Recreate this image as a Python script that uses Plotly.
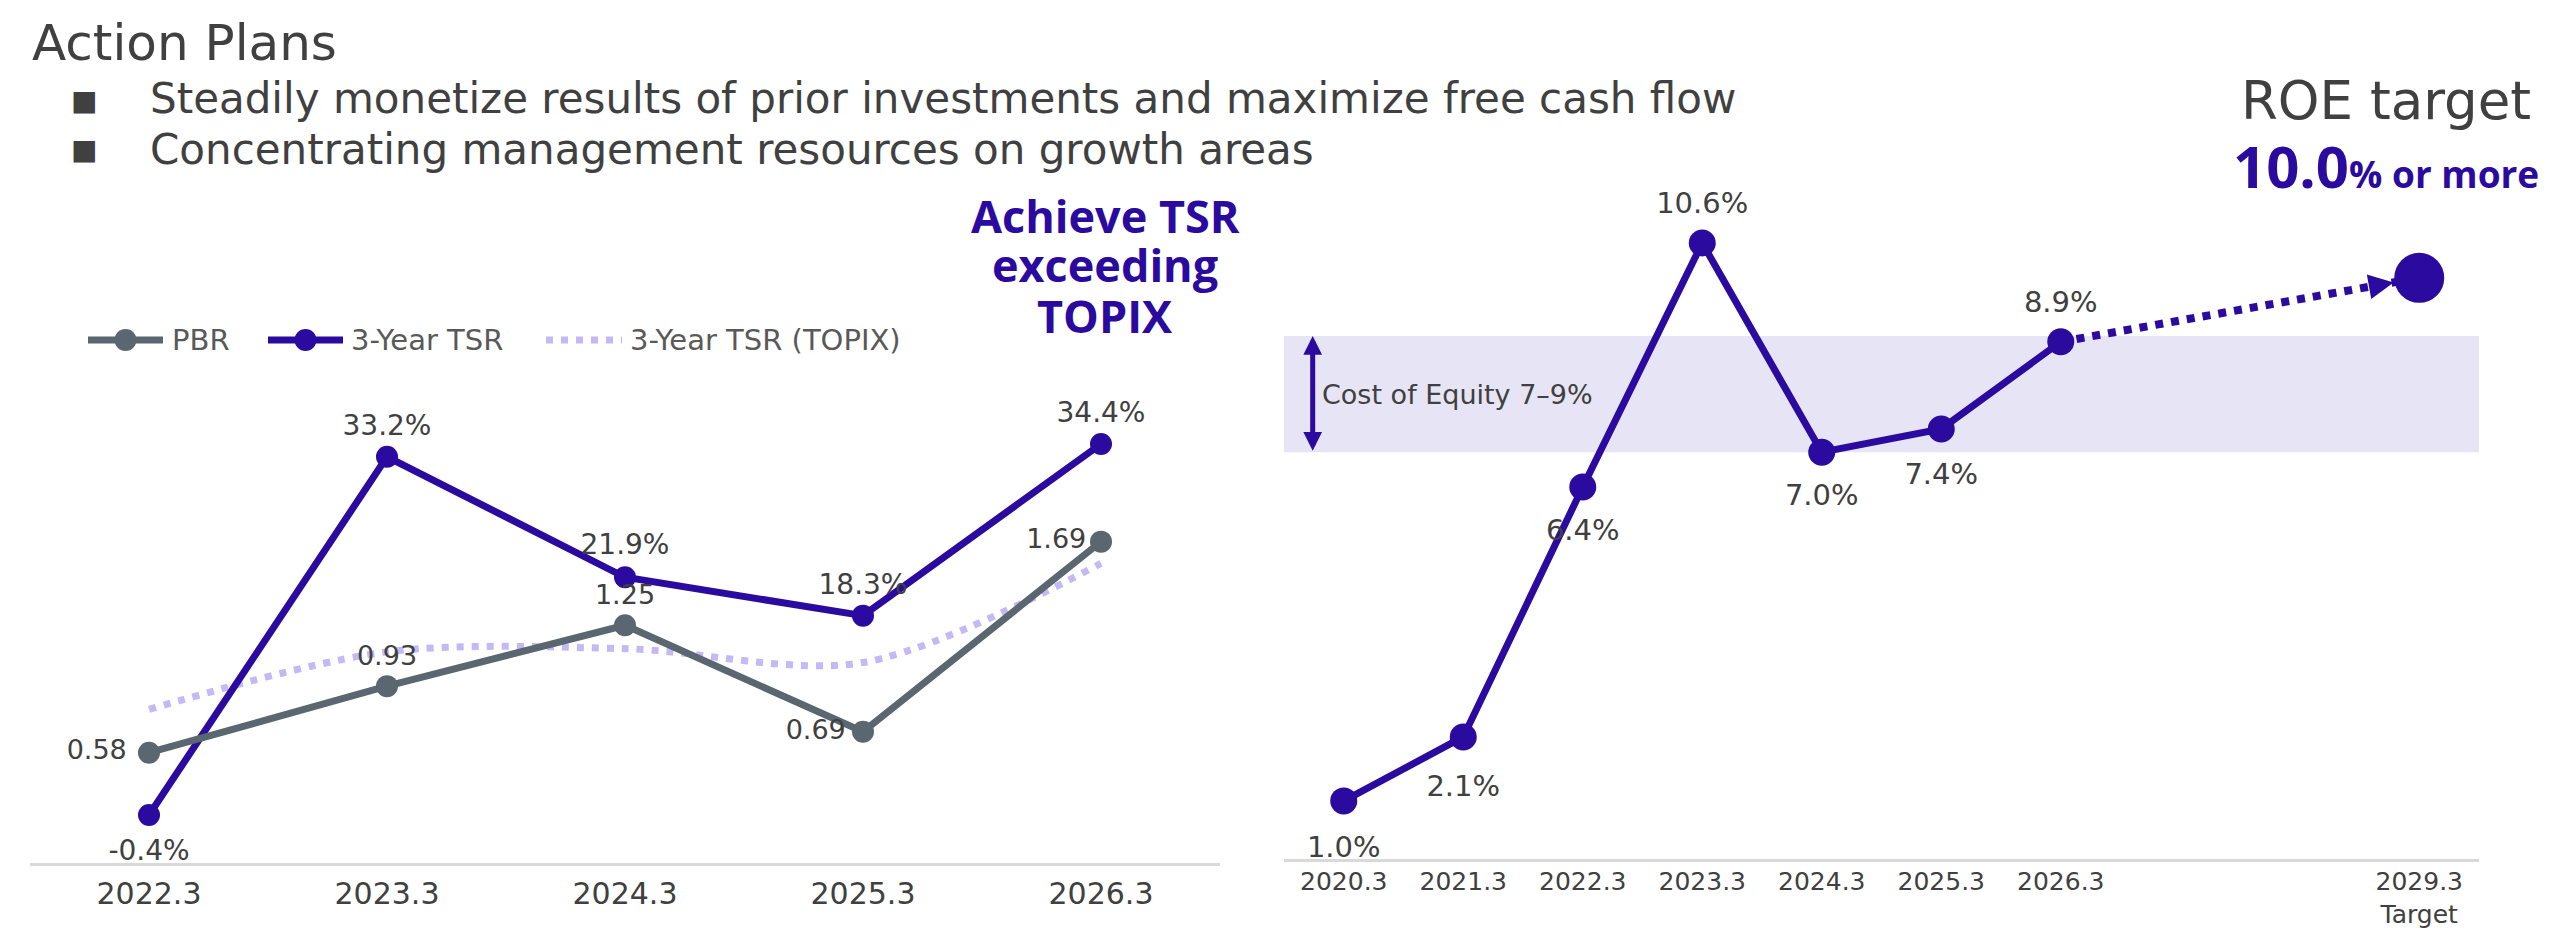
import plotly.graph_objects as go
import math

W, H = 2560, 941

# ---------------- data ----------------
tsr_periods = ["2022.3", "2023.3", "2024.3", "2025.3", "2026.3"]
pbr_values = [0.58, 0.93, 1.25, 0.69, 1.69]
tsr_values = [-0.4, 33.2, 21.9, 18.3, 34.4]
tsr_topix_values = [9.5, 14.9, 15.2, 13.9, 23.2]

roe_years = [2020, 2021, 2022, 2023, 2024, 2025, 2026]
roe_values = [1.0, 2.1, 6.4, 10.6, 7.0, 7.4, 8.9]
target_year = [2029]
target_roe = [10.0]
roe_tick_vals = [2020, 2021, 2022, 2023, 2024, 2025, 2026, 2029]
roe_tick_text = ["2020.3", "2021.3", "2022.3", "2023.3", "2024.3", "2025.3", "2026.3", "2029.3<br>Target"]
cost_of_equity = [7, 9]

# ---------------- styles ----------------
INDIGO = "#2b0a9f"
SLATE = "#5a6670"
LAVENDER = "#c4b9f4"
BAND = "#e7e5f5"
TEXT = "#404040"
FONT = "DejaVu Sans"
BOLD = "Open Sans"


def fx(px):
    return px / W


def fy(py):
    return 1 - py / H


# plot areas (pixels)
L_X0, L_X1, L_Y0, L_Y1 = 30, 1220, 863, 380
R_X0, R_X1, R_Y0, R_Y1 = 1284, 2479, 859, 150
TSR_RANGE = [-4.9, 40.4]
PBR_RANGE = [0, 2.54]
ROE_XRANGE = [2019.5, 2029.5]
ROE_YRANGE = [0, 12.2]

fig = go.Figure()

# ---- left chart ----
fig.add_trace(go.Scatter(
    x=tsr_periods, y=tsr_topix_values, mode="lines", name="3-Year TSR (TOPIX)",
    line=dict(color=LAVENDER, width=7, dash="7px,8px", shape="spline", smoothing=0.9),
    xaxis="x", yaxis="y", hoverinfo="skip"))

fig.add_trace(go.Scatter(
    x=tsr_periods, y=pbr_values, mode="lines+markers", name="PBR",
    line=dict(color=SLATE, width=7), marker=dict(size=22, color=SLATE),
    xaxis="x", yaxis="y2"))
fig.add_trace(go.Scatter(
    x=tsr_periods, y=pbr_values, mode="markers+text", name="PBR labels",
    marker=dict(size=[34, 22, 22, 26, 22], opacity=0),
    text=[f"{v:.2f}" for v in pbr_values],
    textposition=["middle left", "top center", "top center", "middle left", "middle left"],
    textfont=dict(family=FONT, size=27, color=TEXT),
    cliponaxis=False, xaxis="x", yaxis="y2", hoverinfo="skip"))

fig.add_trace(go.Scatter(
    x=tsr_periods, y=tsr_values, mode="lines+markers", name="3-Year TSR",
    line=dict(color=INDIGO, width=7), marker=dict(size=22, color=INDIGO),
    xaxis="x", yaxis="y"))
fig.add_trace(go.Scatter(
    x=tsr_periods, y=tsr_values, mode="markers+text", name="TSR labels",
    marker=dict(size=[36, 22, 24, 22, 22], opacity=0),
    text=[f"{v:.1f}%" for v in tsr_values],
    textposition=["bottom center", "top center", "top center", "top center", "top center"],
    textfont=dict(family=FONT, size=28, color=TEXT),
    cliponaxis=False, xaxis="x", yaxis="y", hoverinfo="skip"))

# ---- right chart ----
fig.add_trace(go.Scatter(
    x=[roe_years[-1], target_year[0]], y=[roe_values[-1], target_roe[0]], mode="lines",
    line=dict(color=INDIGO, width=8, dash="dot"), xaxis="x2", yaxis="y3",
    hoverinfo="skip", name="Target path"))

fig.add_trace(go.Scatter(
    x=roe_years, y=roe_values, mode="lines+markers", name="ROE",
    line=dict(color=INDIGO, width=7), marker=dict(size=27, color=INDIGO),
    xaxis="x2", yaxis="y3"))
fig.add_trace(go.Scatter(
    x=roe_years, y=roe_values, mode="markers+text", name="ROE labels",
    marker=dict(size=[53, 58, 48, 35, 48, 51, 35], opacity=0),
    text=[f"{v:.1f}%" for v in roe_values],
    textposition=["bottom center", "bottom center", "bottom center", "top center",
                  "bottom center", "bottom center", "top center"],
    textfont=dict(family=FONT, size=29, color=TEXT),
    cliponaxis=False, xaxis="x2", yaxis="y3", hoverinfo="skip"))

fig.add_trace(go.Scatter(
    x=target_year, y=target_roe, mode="markers", name="ROE target",
    marker=dict(size=50, color=INDIGO), cliponaxis=False, xaxis="x2", yaxis="y3"))

# ---------------- shapes ----------------
shapes = [
    dict(type="rect", xref="x2 domain", x0=0, x1=1, yref="y3",
         y0=cost_of_equity[0], y1=cost_of_equity[1],
         fillcolor=BAND, line=dict(width=0), layer="below"),
]

# manual legend glyphs
LEG_Y = 340
for (x0, x1, col) in [(88, 163, SLATE), (268, 343, INDIGO)]:
    shapes.append(dict(type="line", xref="paper", yref="paper", x0=fx(x0), x1=fx(x1),
                       y0=fy(LEG_Y), y1=fy(LEG_Y), line=dict(color=col, width=7)))
    cx = (x0 + x1) / 2
    shapes.append(dict(type="circle", xref="paper", yref="paper", x0=fx(cx - 11), x1=fx(cx + 11),
                       y0=fy(LEG_Y + 11), y1=fy(LEG_Y - 11), fillcolor=col, line=dict(width=0)))
shapes.append(dict(type="line", xref="paper", yref="paper", x0=fx(546), x1=fx(622),
                   y0=fy(LEG_Y), y1=fy(LEG_Y), line=dict(color=LAVENDER, width=7, dash="7px,8px")))

# ---------------- annotations ----------------
ann = []


def text(x, y, s, size, color=TEXT, family=FONT, xanchor="left", yanchor="middle", align="left"):
    ann.append(dict(x=fx(x), y=fy(y), xref="paper", yref="paper", text=s, showarrow=False,
                    xanchor=xanchor, yanchor=yanchor, align=align,
                    font=dict(size=size, color=color, family=family)))


text(30, 43, "Action Plans", 50)
text(84, 101, "■", 28, xanchor="center")
text(84, 149, "■", 28, xanchor="center")
text(148, 98, "Steadily monetize results of prior investments and maximize free cash flow", 42)
text(148, 149, "Concentrating management resources on growth areas", 42)

text(170, LEG_Y, "PBR", 29, color="#595959")
text(349, LEG_Y, "3-Year TSR", 29, color="#595959")
text(628, LEG_Y, "3-Year TSR (TOPIX)", 29, color="#595959")

text(1105, 215, "<b>Achieve TSR</b>", 45, color=INDIGO, family=BOLD, xanchor="center")
text(1105, 264, "<b>exceeding</b>", 45, color=INDIGO, family=BOLD, xanchor="center")
text(1105, 315, "<b>TOPIX</b>", 45, color=INDIGO, family=BOLD, xanchor="center")

text(2386, 100, "ROE target", 53, xanchor="center")
ann.append(dict(x=fx(2386), y=fy(207), xref="paper", yref="paper", showarrow=False,
                xanchor="center", yanchor="bottom",
                text="<b><span style='font-size:58px'>10.0</span>% or more</b>",
                font=dict(size=37, color=INDIGO, family=BOLD)))

# cost of equity label + double arrow
ann.append(dict(xref="x2 domain", x=0.03, yref="y3", y=sum(cost_of_equity) / 2,
                text="Cost of Equity 7–9%", showarrow=False, xanchor="left", yanchor="middle",
                font=dict(size=27, color=TEXT, family=FONT)))
ann.append(dict(xref="x2 domain", x=0.024, yref="y3", y=cost_of_equity[1],
                axref="pixel", ax=0, ayref="y3", ay=cost_of_equity[0],
                text="", showarrow=True, arrowside="end+start", arrowhead=2, startarrowhead=2,
                arrowsize=0.75, startarrowsize=0.75, arrowwidth=5, arrowcolor=INDIGO,
                standoff=0, startstandoff=0))

# arrow head toward target (direction from last actual to target, in pixel space)
px_per_year = (R_X1 - R_X0) / (ROE_XRANGE[1] - ROE_XRANGE[0])
px_per_pct = (R_Y0 - R_Y1) / (ROE_YRANGE[1] - ROE_YRANGE[0])
dxp = (target_year[0] - roe_years[-1]) * px_per_year
dyp = (target_roe[0] - roe_values[-1]) * px_per_pct
ln = math.hypot(dxp, dyp)
ux, uy = dxp / ln, dyp / ln
tail = 50
ann.append(dict(xref="x2", x=target_year[0], yref="y3", y=target_roe[0],
                axref="pixel", ayref="pixel", ax=-ux * tail, ay=uy * tail,
                text="", showarrow=True, arrowhead=2, arrowsize=2, arrowwidth=2.5,
                arrowcolor=INDIGO, standoff=26))

fig.update_layout(
    width=W, height=H,
    margin=dict(l=0, r=0, t=0, b=0),
    paper_bgcolor="white", plot_bgcolor="white",
    showlegend=False,
    font=dict(family=FONT, color=TEXT),
    xaxis=dict(domain=[fx(L_X0), fx(L_X1)], type="category", range=[-0.5, 4.5],
               showline=True, linecolor="#d9d9d9", linewidth=3, ticks="",
               tickfont=dict(size=30, color=TEXT, family=FONT), showgrid=False, zeroline=False,
               anchor="y", ticklabelstandoff=2, fixedrange=True),
    yaxis=dict(domain=[fy(L_Y0), fy(L_Y1)], range=TSR_RANGE, visible=False, anchor="x"),
    yaxis2=dict(domain=[fy(L_Y0), fy(L_Y1)], range=PBR_RANGE, visible=False,
                overlaying="y", anchor="x"),
    xaxis2=dict(domain=[fx(R_X0), fx(R_X1)], range=ROE_XRANGE, tickmode="array",
                tickvals=roe_tick_vals, ticktext=roe_tick_text,
                showline=True, linecolor="#d9d9d9", linewidth=3, ticks="",
                tickfont=dict(size=25, color=TEXT, family=FONT), showgrid=False, zeroline=False,
                anchor="y3", ticklabelstandoff=-2),
    yaxis3=dict(domain=[fy(R_Y0), fy(R_Y1)], range=ROE_YRANGE, visible=False, anchor="x2"),
    shapes=shapes,
    annotations=ann,
)

fig.write_html("out.html")
